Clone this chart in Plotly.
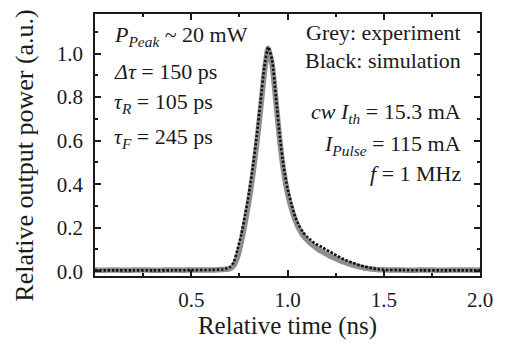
import plotly.graph_objects as go

# Experiment (grey) - relative time (ns) and relative power
t_exp = [0.00, 0.04, 0.08, 0.12, 0.16, 0.20, 0.24, 0.28, 0.32, 0.36, 0.40, 0.44, 0.48,
         0.52, 0.56, 0.60, 0.64, 0.68, 0.70, 0.72, 0.74, 0.76, 0.78, 0.80, 0.82, 0.84,
         0.86, 0.88, 0.90, 0.92, 0.94, 0.96, 0.98, 1.00, 1.02, 1.04, 1.06, 1.08, 1.10,
         1.12, 1.14, 1.16, 1.18, 1.20, 1.22, 1.24, 1.26, 1.28, 1.30, 1.32, 1.34, 1.36,
         1.38, 1.40, 1.42, 1.44, 1.46, 1.48, 1.52, 1.56, 1.60, 1.64, 1.68, 1.72, 1.76,
         1.80, 1.84, 1.88, 1.92, 1.96, 2.00]
p_exp = [0.005, 0.004, 0.006, 0.005, 0.004, 0.005, 0.006, 0.005, 0.004, 0.005, 0.006, 0.005, 0.005,
         0.006, 0.005, 0.006, 0.007, 0.009, 0.012, 0.025, 0.065, 0.135, 0.225, 0.325, 0.445, 0.585,
         0.745, 0.915, 1.025, 0.950, 0.780, 0.600, 0.460, 0.360, 0.290, 0.235, 0.195, 0.165, 0.145,
         0.128, 0.114, 0.100, 0.090, 0.080, 0.070, 0.062, 0.054, 0.046, 0.040, 0.034, 0.028, 0.023,
         0.019, 0.015, 0.012, 0.010, 0.008, 0.007, 0.006, 0.005, 0.005, 0.004, 0.005, 0.006, 0.005,
         0.004, 0.005, 0.005, 0.006, 0.005, 0.005]

# Simulation (black dotted)
t_sim = [0.00, 0.10, 0.20, 0.30, 0.40, 0.50, 0.60, 0.66, 0.68, 0.70, 0.72, 0.74, 0.76, 0.78,
         0.80, 0.82, 0.84, 0.86, 0.88, 0.90, 0.92, 0.94, 0.96, 0.98, 1.00, 1.02, 1.04, 1.06,
         1.08, 1.10, 1.12, 1.14, 1.16, 1.18, 1.20, 1.22, 1.24, 1.26, 1.28, 1.30, 1.32, 1.34,
         1.36, 1.38, 1.40, 1.42, 1.44, 1.46, 1.48, 1.50, 1.60, 1.70, 1.80, 1.90, 2.00]
p_sim = [0.004, 0.004, 0.004, 0.004, 0.004, 0.005, 0.006, 0.008, 0.011, 0.018, 0.040, 0.100, 0.170, 0.260,
         0.360, 0.480, 0.620, 0.780, 0.940, 1.030, 0.970, 0.800, 0.620, 0.480, 0.380, 0.310, 0.250, 0.210,
         0.180, 0.160, 0.145, 0.130, 0.120, 0.110, 0.100, 0.090, 0.080, 0.070, 0.060, 0.052, 0.045, 0.038,
         0.032, 0.026, 0.021, 0.017, 0.013, 0.010, 0.008, 0.006, 0.005, 0.004, 0.004, 0.004, 0.004]

x_ticks = [0.5, 1.0, 1.5, 2.0]
x_ticklabels = ["0.5", "1.0", "1.5", "2.0"]
y_ticks = [0.0, 0.2, 0.4, 0.6, 0.8, 1.0]
y_ticklabels = ["0.0", "0.2", "0.4", "0.6", "0.8", "1.0"]

FONT = "Liberation Serif"
INK = "#1a1a1a"

fig = go.Figure()
fig.add_trace(go.Scatter(x=t_exp, y=p_exp, mode="lines", line=dict(color="#8e8e8e", width=5.5, shape="spline", smoothing=0.6),
                         hoverinfo="skip", showlegend=False))
fig.add_trace(go.Scatter(x=t_sim, y=p_sim, mode="lines", line=dict(color="#111111", width=2.6, dash="2.4px,1.8px", shape="spline", smoothing=0.6),
                         hoverinfo="skip", showlegend=False))

axis_common = dict(showline=True, linecolor=INK, linewidth=1.5, mirror="ticks", ticks="inside",
                   ticklen=6, tickwidth=1.5, tickcolor=INK, showgrid=False, zeroline=False,
                   tickfont=dict(family=FONT, size=21, color=INK))

fig.update_xaxes(range=[0, 2.0], tickmode="array", tickvals=x_ticks, ticktext=x_ticklabels,
                 minor=dict(ticks="inside", ticklen=3.5, tickwidth=1.5, tickcolor=INK, dtick=0.25, tick0=0),
                 title=dict(text="Relative time (ns)", font=dict(family=FONT, size=25, color=INK), standoff=4),
                 ticklabelstandoff=4, **axis_common)
fig.update_yaxes(range=[-0.022, 1.182], tickmode="array", tickvals=y_ticks, ticktext=y_ticklabels,
                 minor=dict(ticks="inside", ticklen=3.5, tickwidth=1.5, tickcolor=INK, dtick=0.1, tick0=0),
                 ticklabelstandoff=6, **axis_common)

L, R, T, B = 95, 22, 12, 62
W, H = 505, 345
pw, ph = W - L - R, H - T - B

def px(xp):
    return (xp - L) / pw

def py(yp):
    return (H - B - yp) / ph

# y-axis title as rotated annotation so its centre matches the reference
fig.add_annotation(text="Relative output power (a.u.)", xref="paper", yref="paper", x=px(24), y=py(159),
                   xanchor="center", yanchor="middle", textangle=-90, showarrow=False,
                   font=dict(family=FONT, size=26, color=INK))

ann_font = dict(family=FONT, size=22, color=INK)
left_lines = [
    ("<i>P</i><sub><i>Peak</i></sub> ~ 20 mW", 35),
    ("<i>Δτ</i> = 150 ps", 71),
    ("<i>τ</i><sub><i>R</i></sub> = 105 ps", 104),
    ("<i>τ</i><sub><i>F</i></sub> = 245 ps", 140),
]
for txt, yp in left_lines:
    fig.add_annotation(text=txt, xref="paper", yref="paper", x=px(112), y=py(yp), xanchor="left",
                       yanchor="middle", showarrow=False, font=ann_font)
right_lines = [
    ("Grey: experiment", 31),
    ("Black: simulation", 60),
    ("<i>cw I</i><sub><i>th</i></sub> = 15.3 mA", 114),
    ("<i>I</i><sub><i>Pulse</i></sub> = 115 mA", 147),
    ("<i>f</i> = 1 MHz", 177),
]
for txt, yp in right_lines:
    fig.add_annotation(text=txt, xref="paper", yref="paper", x=px(466), y=py(yp), xanchor="right",
                       yanchor="middle", showarrow=False, font=ann_font)

fig.update_layout(width=W, height=H, margin=dict(l=L, r=R, t=T, b=B), plot_bgcolor="white",
                  paper_bgcolor="white", font=dict(family=FONT, color=INK))

fig.write_html("out.html", config={"displayModeBar": False},
               post_script="document.body.style.margin='0';")
